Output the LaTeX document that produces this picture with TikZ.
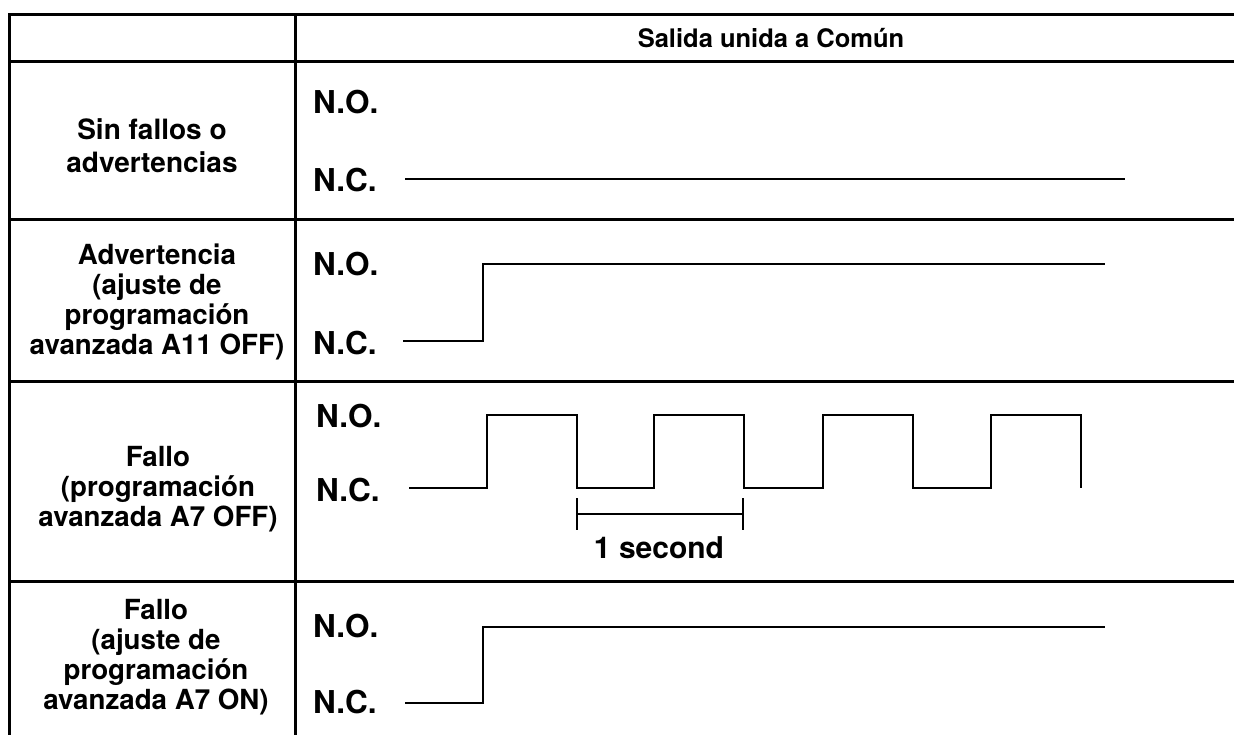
\documentclass[tikz,border=0pt]{standalone}
\usepackage{fontspec}
\setmainfont{TeX Gyre Heros}
\begin{document}
\begin{tikzpicture}[x=1pt,y=-1pt,
  grid/.style={line width=3pt,black},
  wave/.style={line width=2.5pt,black,line join=miter},
  hdr/.style={font=\bfseries\fontsize{25.5}{30}\selectfont,inner sep=0pt},
  rowlbl/.style={font=\bfseries\fontsize{27.7}{30}\selectfont,align=center,inner sep=0pt},
  contact/.style={font=\bfseries\fontsize{31.5}{30}\selectfont,anchor=base west,inner sep=0pt},
  timelbl/.style={font=\bfseries\fontsize{30}{30}\selectfont,anchor=base,inner sep=0pt}]
\useasboundingbox (0,0) rectangle (1234,735);
\fill[white] (0,0) rectangle (1234,735);
% table
\draw[grid] (9,740) -- (9,15) -- (1240,15);
\draw[grid] (295,15) -- (295,740);
\foreach \yy in {62,220,381,581} \draw[grid] (9,\yy) -- (1240,\yy);
% header
\node[hdr] (head) at (771,38) {Salida unida a Común};
% row labels
\node[rowlbl,font=\bfseries\fontsize{28}{33}\selectfont] (r1) at (152,146) {Sin fallos o\\advertencias};
\node[rowlbl] (r2) at (157,302) {Advertencia\\(ajuste de\\programación\\avanzada A11 OFF)};
\node[rowlbl] (r3) at (158,489) {Fallo\\(programación\\avanzada A7 OFF)};
\node[rowlbl] (r4) at (156,657) {Fallo\\(ajuste de\\programación\\avanzada A7 ON)};
% contacts
\node[contact] (no1) at (313,114) {N.O.};
\node[contact] (nc1) at (313,192) {N.C.};
\node[contact] (no2) at (313,276) {N.O.};
\node[contact] (nc2) at (313,354) {N.C.};
\node[contact] (no3) at (316,427) {N.O.};
\node[contact] (nc3) at (316,501) {N.C.};
\node[contact] (no4) at (313,637) {N.O.};
\node[contact] (nc4) at (313,713) {N.C.};
% waveforms
\draw[wave] (405,179) -- (1125,179);
\draw[wave] (403,341) -- (483,341) -- (483,264) -- (1105,264);
\draw[wave] (409,488) -- (487,488) -- (487,415) -- (577,415) -- (577,488)
  -- (654,488) -- (654,415) -- (744,415) -- (744,488) -- (823,488) -- (823,415)
  -- (913,415) -- (913,488) -- (991,488) -- (991,415) -- (1081,415) -- (1081,488);
\draw[wave] (405,703) -- (483,703) -- (483,627) -- (1105,627);
% one second
\draw[wave] (577,498) -- (577,530);
\draw[wave] (743,498) -- (743,530);
\draw[wave] (577,514) -- (743,514);
\node[timelbl] (sec) at (659,558) {1 second};
\end{tikzpicture}
\end{document}
